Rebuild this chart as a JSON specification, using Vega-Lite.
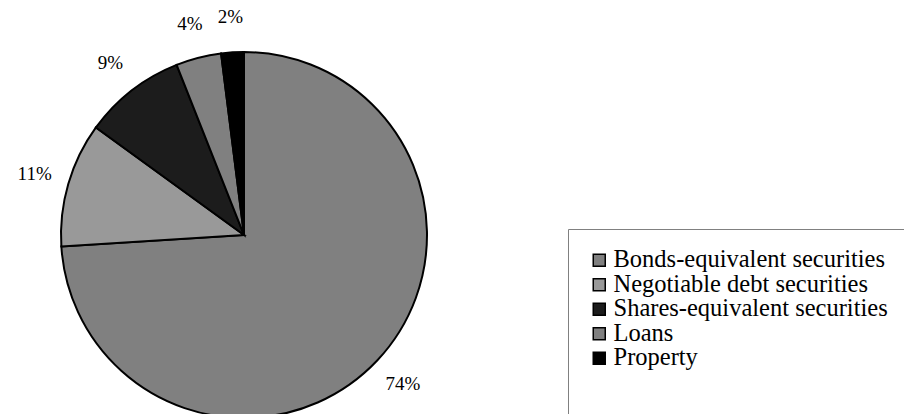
{
  "$schema": "https://vega.github.io/schema/vega-lite/v6.json",
  "width": 488,
  "height": 470,
  "padding": 0,
  "autosize": {"type": "pad"},
  "background": "white",
  "config": {
    "view": {"stroke": null},
    "font": "Liberation Serif"
  },
  "data": {
    "values": [
      {"category": "Bonds-equivalent securities", "share": 74, "label": "74%", "rank": 1},
      {"category": "Negotiable debt securities", "share": 11, "label": "11%", "rank": 2},
      {"category": "Shares-equivalent securities", "share": 9, "label": "9%", "rank": 3},
      {"category": "Loans", "share": 4, "label": "4%", "rank": 4},
      {"category": "Property", "share": 2, "label": "2%", "rank": 5}
    ]
  },
  "encoding": {
    "theta": {"field": "share", "type": "quantitative", "stack": true},
    "order": {"field": "rank", "type": "quantitative"}
  },
  "layer": [
    {
      "mark": {"type": "arc", "radius": 183, "stroke": "black", "strokeWidth": 2},
      "encoding": {
        "color": {
          "field": "category",
          "type": "nominal",
          "sort": ["Bonds-equivalent securities", "Negotiable debt securities", "Shares-equivalent securities", "Loans", "Property"],
          "scale": {
            "domain": ["Bonds-equivalent securities", "Negotiable debt securities", "Shares-equivalent securities", "Loans", "Property"],
            "range": ["#808080", "#999999", "#1c1c1c", "#808080", "#000000"]
          },
          "legend": {
            "orient": "none",
            "legendX": 568,
            "legendY": 229,
            "title": "\u00a0",
            "titleOrient": "bottom",
            "titleFontSize": 20,
            "titlePadding": 8,
            "padding": 19,
            "strokeColor": "#808080",
            "fillColor": "white",
            "symbolType": "square",
            "symbolSize": 144,
            "symbolStrokeColor": "black",
            "symbolStrokeWidth": 1.5,
            "symbolOpacity": 1,
            "labelFont": "Liberation Serif",
            "labelFontSize": 24.5,
            "labelColor": "black",
            "labelOffset": 2,
            "labelLimit": 400,
            "rowPadding": -0.5
          }
        }
      }
    },
    {
      "mark": {
        "type": "text",
        "radius": 218,
        "font": "Liberation Serif",
        "fontSize": 19,
        "color": "black",
        "align": "center",
        "baseline": "middle"
      },
      "encoding": {
        "text": {"field": "label", "type": "nominal"}
      }
    }
  ]
}
